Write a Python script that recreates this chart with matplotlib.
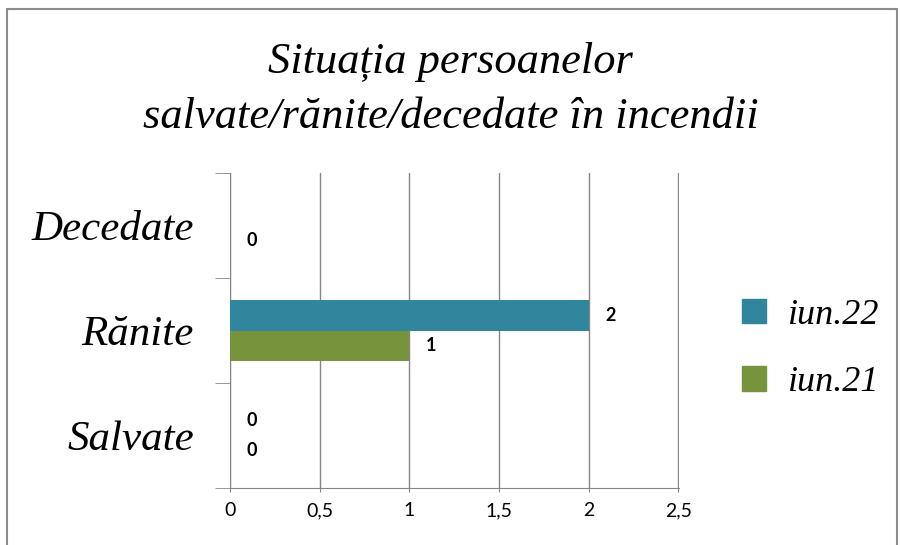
import numpy as np
import matplotlib.pyplot as plt
from matplotlib.patches import Rectangle, Patch

categories = ["Salvate", "Rănite", "Decedate"]
iun22 = [0, 2, np.nan]
iun21 = [0, 1, 0]
series_names = ["iun.22", "iun.21"]
colors = ["#31859C", "#77933C"]
xticks = [0, 0.5, 1, 1.5, 2, 2.5]
xtick_labels = ["0", "0,5", "1", "1,5", "2", "2,5"]

serif = ["Liberation Serif", "DejaVu Serif"]
sans = ["Lato", "DejaVu Sans"]

fig = plt.figure(figsize=(9.01, 5.45), dpi=100)
fig.patches.append(Rectangle((7 / 901, -0.1), 890 / 901, 1.1 - 9 / 545,
                             transform=fig.transFigure, fill=False,
                             edgecolor="#8c8c8c", linewidth=1.5))

ax = fig.add_axes([230 / 901, 1 - 488 / 545, 449 / 901, 315 / 545])

y = np.arange(len(categories))
h = 0.29
b22 = ax.barh(y + h / 2, iun22, height=h, color=colors[0], zorder=3)
b21 = ax.barh(y - h / 2, iun21, height=h, color=colors[1], zorder=3)

for bars, vals in [(b22, iun22), (b21, iun21)]:
    for bar, v in zip(bars, vals):
        if np.isnan(v):
            continue
        ax.annotate(f"{v:g}", (v, bar.get_y() + bar.get_height() / 2),
                    xytext=(12, 0), textcoords="offset points",
                    ha="left", va="center", fontsize=13, fontweight="bold",
                    family=sans)

ax.set_xlim(0, 2.503)
ax.set_ylim(-0.5, 2.5)
ax.set_xticks(xticks)
ax.set_xticklabels(xtick_labels, family=sans, fontsize=14)
ax.tick_params(axis="x", length=3, color="#868686", pad=7)
ax.set_yticks(y)
ax.set_yticklabels(categories, family=serif, style="italic", fontsize=31)
ax.tick_params(axis="y", which="major", length=0, pad=26)
ax.set_yticks([-0.5, 0.5, 1.5, 2.5], minor=True)
ax.tick_params(axis="y", which="minor", length=11, color="#868686")
ax.grid(axis="x", color="#868686", linewidth=1, zorder=0)
for s in ["top", "right"]:
    ax.spines[s].set_visible(False)
for s in ["left", "bottom"]:
    ax.spines[s].set_color("#868686")

fig.text(0.5, 1 - 62 / 545, "Situația persoanelor", ha="center", va="center",
         family=serif, style="italic", fontsize=32)
fig.text(0.5, 1 - 117 / 545, "salvate/rănite/decedate în incendii",
         ha="center", va="center", family=serif, style="italic", fontsize=32)

handles = [Patch(color=c) for c in colors]
fig.legend(handles, series_names, loc="center left",
           bbox_to_anchor=(728 / 901, 1 - 349 / 545), frameon=False,
           prop={"family": serif, "style": "italic", "size": 26},
           handlelength=0.65, handleheight=0.65, handletextpad=0.6,
           labelspacing=0.95, borderaxespad=0)

fig.savefig("out.png", dpi=100)
